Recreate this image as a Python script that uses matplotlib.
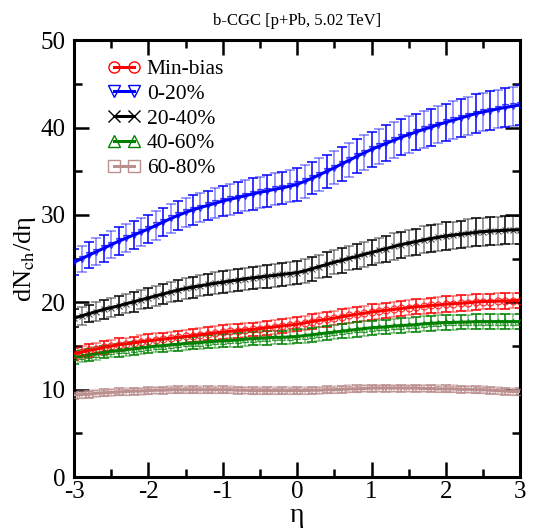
import numpy as np
import matplotlib
matplotlib.use("Agg")
import matplotlib.pyplot as plt
from matplotlib.ticker import MultipleLocator

plt.rcParams['font.family'] = ['Liberation Serif', 'DejaVu Serif']
plt.rcParams['mathtext.fontset'] = 'stix'
plt.rcParams['axes.unicode_minus'] = False

# pseudorapidity grid, step 0.1
eta = np.round(np.arange(-30, 31) / 10.0, 1)

labels = ["Min-bias", "0-20%", "20-40%", "40-60%", "60-80%"]

minbias = [14.1, 14.3, 14.5, 14.65, 14.85, 15.0, 15.15, 15.25, 15.35, 15.5,
           15.6, 15.7, 15.8, 15.9, 16.0, 16.1, 16.2, 16.3, 16.4, 16.5,
           16.6, 16.7, 16.75, 16.85, 16.9, 17.0, 17.1, 17.2, 17.3, 17.4,
           17.5, 17.65, 17.8, 17.95, 18.05, 18.2, 18.35, 18.5, 18.65, 18.75,
           18.9, 19.0, 19.1, 19.2, 19.3, 19.4, 19.5, 19.55, 19.65, 19.7,
           19.8, 19.85, 19.9, 19.95, 20.05, 20.1, 20.1, 20.15, 20.15, 20.2,
           20.2]
c0_20 = [24.6, 25.0, 25.4, 25.8, 26.2, 26.6, 27.0, 27.35, 27.7, 28.05,
         28.4, 28.8, 29.2, 29.6, 29.95, 30.3, 30.6, 30.85, 31.1, 31.35,
         31.6, 31.8, 32.0, 32.2, 32.4, 32.6, 32.75, 32.95, 33.1, 33.3,
         33.5, 33.85, 34.2, 34.6, 35.0, 35.4, 35.85, 36.25, 36.7, 37.1,
         37.5, 37.85, 38.2, 38.55, 38.9, 39.2, 39.5, 39.8, 40.05, 40.35,
         40.6, 40.85, 41.1, 41.35, 41.6, 41.8, 41.95, 42.15, 42.3, 42.45,
         42.6]
c20_40 = [18.2, 18.45, 18.7, 18.95, 19.2, 19.4, 19.6, 19.85, 20.05, 20.3,
          20.5, 20.75, 20.95, 21.2, 21.4, 21.6, 21.75, 21.9, 22.05, 22.2,
          22.3, 22.45, 22.55, 22.7, 22.8, 22.9, 23.0, 23.1, 23.2, 23.3,
          23.4, 23.6, 23.85, 24.1, 24.35, 24.6, 24.8, 25.05, 25.25, 25.5,
          25.7, 25.95, 26.15, 26.4, 26.6, 26.8, 26.95, 27.15, 27.3, 27.45,
          27.6, 27.7, 27.8, 27.9, 28.0, 28.1, 28.15, 28.2, 28.25, 28.3,
          28.3]
c40_60 = [13.7, 13.85, 14.0, 14.15, 14.3, 14.4, 14.5, 14.6, 14.7, 14.8,
          14.9, 15.0, 15.05, 15.15, 15.2, 15.3, 15.35, 15.4, 15.5, 15.55,
          15.6, 15.65, 15.7, 15.8, 15.85, 15.9, 15.95, 16.0, 16.0, 16.05,
          16.1, 16.2, 16.3, 16.4, 16.5, 16.6, 16.7, 16.8, 16.9, 17.0,
          17.1, 17.15, 17.2, 17.3, 17.35, 17.4, 17.45, 17.55, 17.6, 17.65,
          17.7, 17.7, 17.75, 17.75, 17.8, 17.8, 17.8, 17.8, 17.8, 17.8,
          17.8]
c60_80 = [9.4, 9.45, 9.5, 9.6, 9.65, 9.7, 9.75, 9.8, 9.85, 9.85,
          9.9, 9.95, 9.95, 10.0, 10.0, 10.0, 10.0, 10.0, 10.0, 10.0,
          10.0, 10.0, 9.95, 9.95, 9.9, 9.9, 9.9, 9.9, 9.9, 9.9,
          9.9, 9.9, 9.95, 9.95, 10.0, 10.0, 10.05, 10.1, 10.1, 10.15,
          10.2, 10.2, 10.2, 10.2, 10.2, 10.2, 10.2, 10.15, 10.15, 10.1,
          10.1, 10.1, 10.05, 10.05, 10.0, 10.0, 9.95, 9.9, 9.85, 9.8,
          9.8]

# error bars
minbias_err = [0.7, 0.7, 0.7, 0.7, 0.7, 0.72, 0.72, 0.72, 0.72, 0.72,
               0.74, 0.74, 0.74, 0.74, 0.74, 0.76, 0.76, 0.76, 0.76, 0.76,
               0.78, 0.78, 0.78, 0.78, 0.78, 0.8, 0.8, 0.8, 0.8, 0.8,
               0.82, 0.82, 0.82, 0.82, 0.82, 0.84, 0.84, 0.84, 0.84, 0.84,
               0.86, 0.86, 0.86, 0.86, 0.86, 0.88, 0.88, 0.88, 0.88, 0.88,
               0.9, 0.9, 0.9, 0.9, 0.9, 0.9, 0.9, 0.9, 0.9, 0.9,
               0.9]
c0_20_err = [1.5, 1.5, 1.5, 1.55, 1.55, 1.55, 1.6, 1.6, 1.6, 1.6,
             1.65, 1.65, 1.65, 1.65, 1.7, 1.7, 1.7, 1.7, 1.7, 1.75,
             1.75, 1.75, 1.75, 1.75, 1.8, 1.8, 1.8, 1.8, 1.8, 1.8,
             1.85, 1.85, 1.85, 1.9, 1.9, 1.9, 1.95, 1.95, 1.95, 2.0,
             2.0, 2.0, 2.05, 2.05, 2.05, 2.1, 2.1, 2.1, 2.1, 2.15,
             2.15, 2.15, 2.15, 2.2, 2.2, 2.2, 2.2, 2.2, 2.2, 2.25,
             2.25]
c20_40_err = [1.0, 1.0, 1.0, 1.05, 1.05, 1.05, 1.1, 1.1, 1.1, 1.1,
              1.15, 1.15, 1.15, 1.15, 1.2, 1.2, 1.2, 1.2, 1.2, 1.25,
              1.25, 1.25, 1.25, 1.25, 1.3, 1.3, 1.3, 1.3, 1.3, 1.3,
              1.35, 1.35, 1.35, 1.35, 1.4, 1.4, 1.4, 1.4, 1.45, 1.45,
              1.45, 1.45, 1.5, 1.5, 1.5, 1.5, 1.5, 1.55, 1.55, 1.55,
              1.55, 1.55, 1.55, 1.6, 1.6, 1.6, 1.6, 1.6, 1.6, 1.6,
              1.6]
c40_60_err = [0.7, 0.7, 0.7, 0.7, 0.7, 0.7, 0.72, 0.72, 0.72, 0.72,
              0.72, 0.72, 0.74, 0.74, 0.74, 0.74, 0.74, 0.74, 0.76, 0.76,
              0.76, 0.76, 0.76, 0.76, 0.78, 0.78, 0.78, 0.78, 0.78, 0.78,
              0.8, 0.8, 0.8, 0.8, 0.8, 0.8, 0.82, 0.82, 0.82, 0.82,
              0.82, 0.82, 0.84, 0.84, 0.84, 0.84, 0.84, 0.84, 0.85, 0.85,
              0.85, 0.85, 0.85, 0.85, 0.85, 0.85, 0.85, 0.85, 0.85, 0.85,
              0.85]
c60_80_err = [0.4] * 61

series = [minbias, c0_20, c20_40, c40_60, c60_80]
errors = [minbias_err, c0_20_err, c20_40_err, c40_60_err, c60_80_err]
colors = ["red", "blue", "black", "#008000", "#bc8f8f"]
markers = ["o", "v", "x", "^", "s"]

fig = plt.figure(figsize=(5.33, 5.29), dpi=100)
ax = fig.add_axes([0.139, 0.098, 0.837, 0.826])

handles = []
for y, e, c, m, lab in zip(series, errors, colors, markers, labels):
    y = np.array(y)
    e = np.array(e)
    # two alternating error-bar sets, one of them lighter
    ax.errorbar(eta[::2], y[::2], yerr=e[::2], fmt='none', ecolor=c,
                elinewidth=1.1, capsize=3.6, capthick=1.1, zorder=2)
    ax.errorbar(eta[1::2], y[1::2], yerr=e[1::2], fmt='none', ecolor=c,
                elinewidth=1.1, capsize=3.6, capthick=1.1, alpha=0.5, zorder=2)
    ax.plot(eta, y, '-', color=c, lw=2.2, zorder=3)
    if m == "x":
        ax.plot(eta, y, m, color=c, ms=4, mew=0.8, alpha=0.7, zorder=4)
    else:
        ax.plot(eta, y, m, color=c, mfc='none', ms=5, mew=0.9, alpha=0.75, zorder=4)
    h, = ax.plot([], [], '-', color=c, lw=2.2, marker=m, mfc='none',
                 ms=8, mew=1.0)
    handles.append(h)

ax.set_xlim(-3, 3)
ax.set_ylim(0, 50)
ax.xaxis.set_major_locator(MultipleLocator(1))
ax.xaxis.set_minor_locator(MultipleLocator(0.5))
ax.yaxis.set_major_locator(MultipleLocator(10))
ax.yaxis.set_minor_locator(MultipleLocator(5))
ax.tick_params(which='both', direction='in', top=True, right=True,
               width=1.8, labelsize=18)
ax.tick_params(axis='x', pad=3)
ax.tick_params(axis='y', pad=6)
ax.tick_params(which='major', length=11)
ax.tick_params(which='minor', length=6)
for sp in ax.spines.values():
    sp.set_linewidth(2.2)

ax.set_xlabel("η", fontsize=20, labelpad=0)
ax.set_ylabel(r"dN$_{\rm ch}$/dη", fontsize=19, labelpad=2)
ax.set_title("b-CGC [p+Pb, 5.02 TeV]", fontsize=12, pad=11)

ax.legend(handles, labels, loc='upper left', bbox_to_anchor=(0.074, 0.957),
          frameon=False, fontsize=15.5, numpoints=2, handlelength=1.55,
          handletextpad=0.3, labelspacing=0.22, borderpad=0, borderaxespad=0)

fig.savefig("out.png", dpi=100)
